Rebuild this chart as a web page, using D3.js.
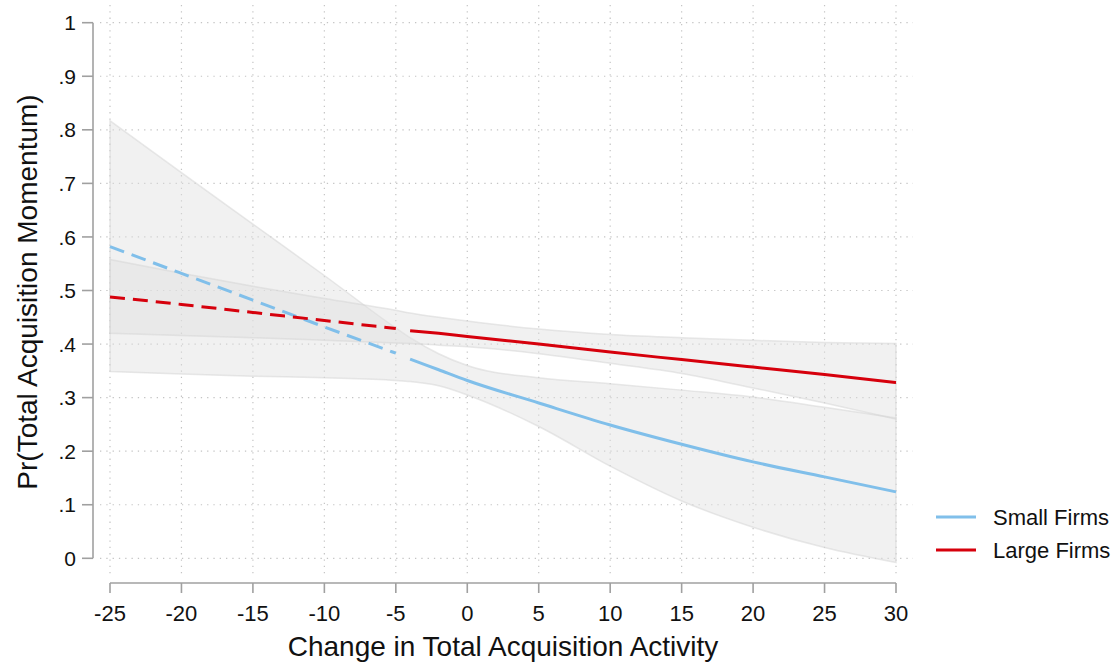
<html>
<head>
<meta charset="utf-8">
<script src="https://d3js.org/d3.v7.min.js"></script>
<style>
  body, html { margin: 0; padding: 0; background: #fff; font-family: "Liberation Sans", Arial, sans-serif; }
</style>
</head>
<body>
<div id="chart"></div>
<script>
// x values where the margins were read
var xGrid = [-25, -20, -15, -10, -5, -4, -2, 0, 5, 10, 15, 20, 25, 30];

var smallFit   = [0.582, 0.532, 0.482, 0.432, 0.383, 0.372, 0.352, 0.332, 0.290, 0.249, 0.213, 0.180, 0.152, 0.124];
var smallUpper = [0.817, 0.720, 0.624, 0.528, 0.430, 0.412, 0.382, 0.360, 0.337, 0.326, 0.314, 0.301, 0.282, 0.262];
var smallLower = [0.349, 0.344, 0.340, 0.337, 0.332, 0.330, 0.322, 0.305, 0.246, 0.172, 0.107, 0.058, 0.020, -0.008];

var largeFit   = [0.488, 0.474, 0.459, 0.444, 0.429, 0.425, 0.420, 0.414, 0.400, 0.385, 0.371, 0.357, 0.343, 0.328];
var largeUpper = [0.558, 0.532, 0.508, 0.485, 0.463, 0.458, 0.450, 0.443, 0.428, 0.418, 0.412, 0.407, 0.403, 0.401];
var largeLower = [0.420, 0.416, 0.412, 0.407, 0.402, 0.401, 0.398, 0.395, 0.382, 0.364, 0.345, 0.318, 0.290, 0.260];

var xTicks = [-25, -20, -15, -10, -5, 0, 5, 10, 15, 20, 25, 30];
var yTicks = [0, 0.1, 0.2, 0.3, 0.4, 0.5, 0.6, 0.7, 0.8, 0.9, 1];

var seriesNames = ["Small Firms", "Large Firms"];
var seriesColors = ["#80bfea", "#d6000c"];

var W = 1117, H = 664;

var svg = d3.select("#chart").append("svg")
    .attr("width", W)
    .attr("height", H);

var x = d3.scaleLinear().domain([-25, 30]).range([110, 896]);
var y = d3.scaleLinear().domain([0, 1]).range([558.3, 22.7]);

// dotted grid
svg.append("g").selectAll("line")
    .data(xTicks).enter().append("line")
    .attr("x1", d => x(d)).attr("x2", d => x(d))
    .attr("y1", 5).attr("y2", 577)
    .attr("stroke", "#c4c4c4").attr("stroke-width", 1.2)
    .attr("stroke-dasharray", "1.3,5");

svg.append("g").selectAll("line")
    .data(yTicks).enter().append("line")
    .attr("x1", 100).attr("x2", 913)
    .attr("y1", d => y(d)).attr("y2", d => y(d))
    .attr("stroke", "#c4c4c4").attr("stroke-width", 1.2)
    .attr("stroke-dasharray", "1.3,5");

// confidence bands
function band(lo, hi) {
    return xGrid.map((v, i) => ({x: v, lo: lo[i], hi: hi[i]}));
}
var area = d3.area()
    .x(d => x(d.x))
    .y0(d => y(d.lo))
    .y1(d => y(d.hi))
    .curve(d3.curveMonotoneX);

[band(smallLower, smallUpper), band(largeLower, largeUpper)].forEach(function(b) {
    svg.append("path")
        .datum(b)
        .attr("d", area)
        .attr("fill", "#dfdfdf")
        .attr("fill-opacity", 0.45)
        .attr("stroke", "#d4d4d4")
        .attr("stroke-opacity", 0.5)
        .attr("stroke-width", 1.5);
});

// fitted lines, dashed out of sample (< -4), solid from -4
var line = d3.line()
    .x(d => x(d.x))
    .y(d => y(d.v))
    .curve(d3.curveMonotoneX);

[smallFit, largeFit].forEach(function(vals, k) {
    var pts = xGrid.map((v, i) => ({x: v, v: vals[i]}));
    svg.append("path")
        .datum(pts.filter(d => d.x <= -5))
        .attr("d", line)
        .attr("fill", "none")
        .attr("stroke", seriesColors[k])
        .attr("stroke-width", 3)
        .attr("stroke-dasharray", "15,8");
    svg.append("path")
        .datum(pts.filter(d => d.x >= -4))
        .attr("d", line)
        .attr("fill", "none")
        .attr("stroke", seriesColors[k])
        .attr("stroke-width", 3);
});

// Y axis
var yAxis = svg.append("g");
yAxis.append("line")
    .attr("x1", 93).attr("x2", 93)
    .attr("y1", y(1)).attr("y2", y(0))
    .attr("stroke", "#a0a0a0").attr("stroke-width", 1.6);
yAxis.selectAll(".tick").data(yTicks).enter().append("line")
    .attr("x1", 82).attr("x2", 93)
    .attr("y1", d => y(d)).attr("y2", d => y(d))
    .attr("stroke", "#a0a0a0").attr("stroke-width", 1.6);
yAxis.selectAll("text").data(yTicks).enter().append("text")
    .attr("x", 76)
    .attr("y", d => y(d))
    .attr("dy", "0.36em")
    .attr("text-anchor", "end")
    .attr("font-size", 21)
    .attr("fill", "#111")
    .text(d => d === 0 ? "0" : d === 1 ? "1" : d3.format(".1f")(d).replace(/^0/, ""));

// X axis
var xAxis = svg.append("g");
xAxis.append("line")
    .attr("x1", x(-25)).attr("x2", x(30))
    .attr("y1", 583).attr("y2", 583)
    .attr("stroke", "#a0a0a0").attr("stroke-width", 1.6);
xAxis.selectAll(".tick").data(xTicks).enter().append("line")
    .attr("x1", d => x(d)).attr("x2", d => x(d))
    .attr("y1", 583).attr("y2", 593)
    .attr("stroke", "#a0a0a0").attr("stroke-width", 1.6);
xAxis.selectAll("text").data(xTicks).enter().append("text")
    .attr("x", d => x(d))
    .attr("y", 621)
    .attr("text-anchor", "middle")
    .attr("font-size", 22)
    .attr("fill", "#111")
    .text(d => d);

// axis titles
svg.append("text")
    .attr("x", 503)
    .attr("y", 656)
    .attr("text-anchor", "middle")
    .attr("font-size", 28)
    .attr("fill", "#111")
    .text("Change in Total Acquisition Activity");

svg.append("text")
    .attr("transform", "translate(37,292) rotate(-90)")
    .attr("text-anchor", "middle")
    .attr("font-size", 28)
    .attr("fill", "#111")
    .text("Pr(Total Acquisition Momentum)");

// legend
var legend = svg.append("g");
seriesNames.forEach(function(name, i) {
    var ly = 517 + i * 33;
    legend.append("line")
        .attr("x1", 936).attr("x2", 976)
        .attr("y1", ly).attr("y2", ly)
        .attr("stroke", seriesColors[i])
        .attr("stroke-width", 3);
    legend.append("text")
        .attr("x", 993)
        .attr("y", ly)
        .attr("dy", "0.36em")
        .attr("font-size", 22)
        .attr("fill", "#111")
        .text(name);
});
</script>
</body>
</html>
